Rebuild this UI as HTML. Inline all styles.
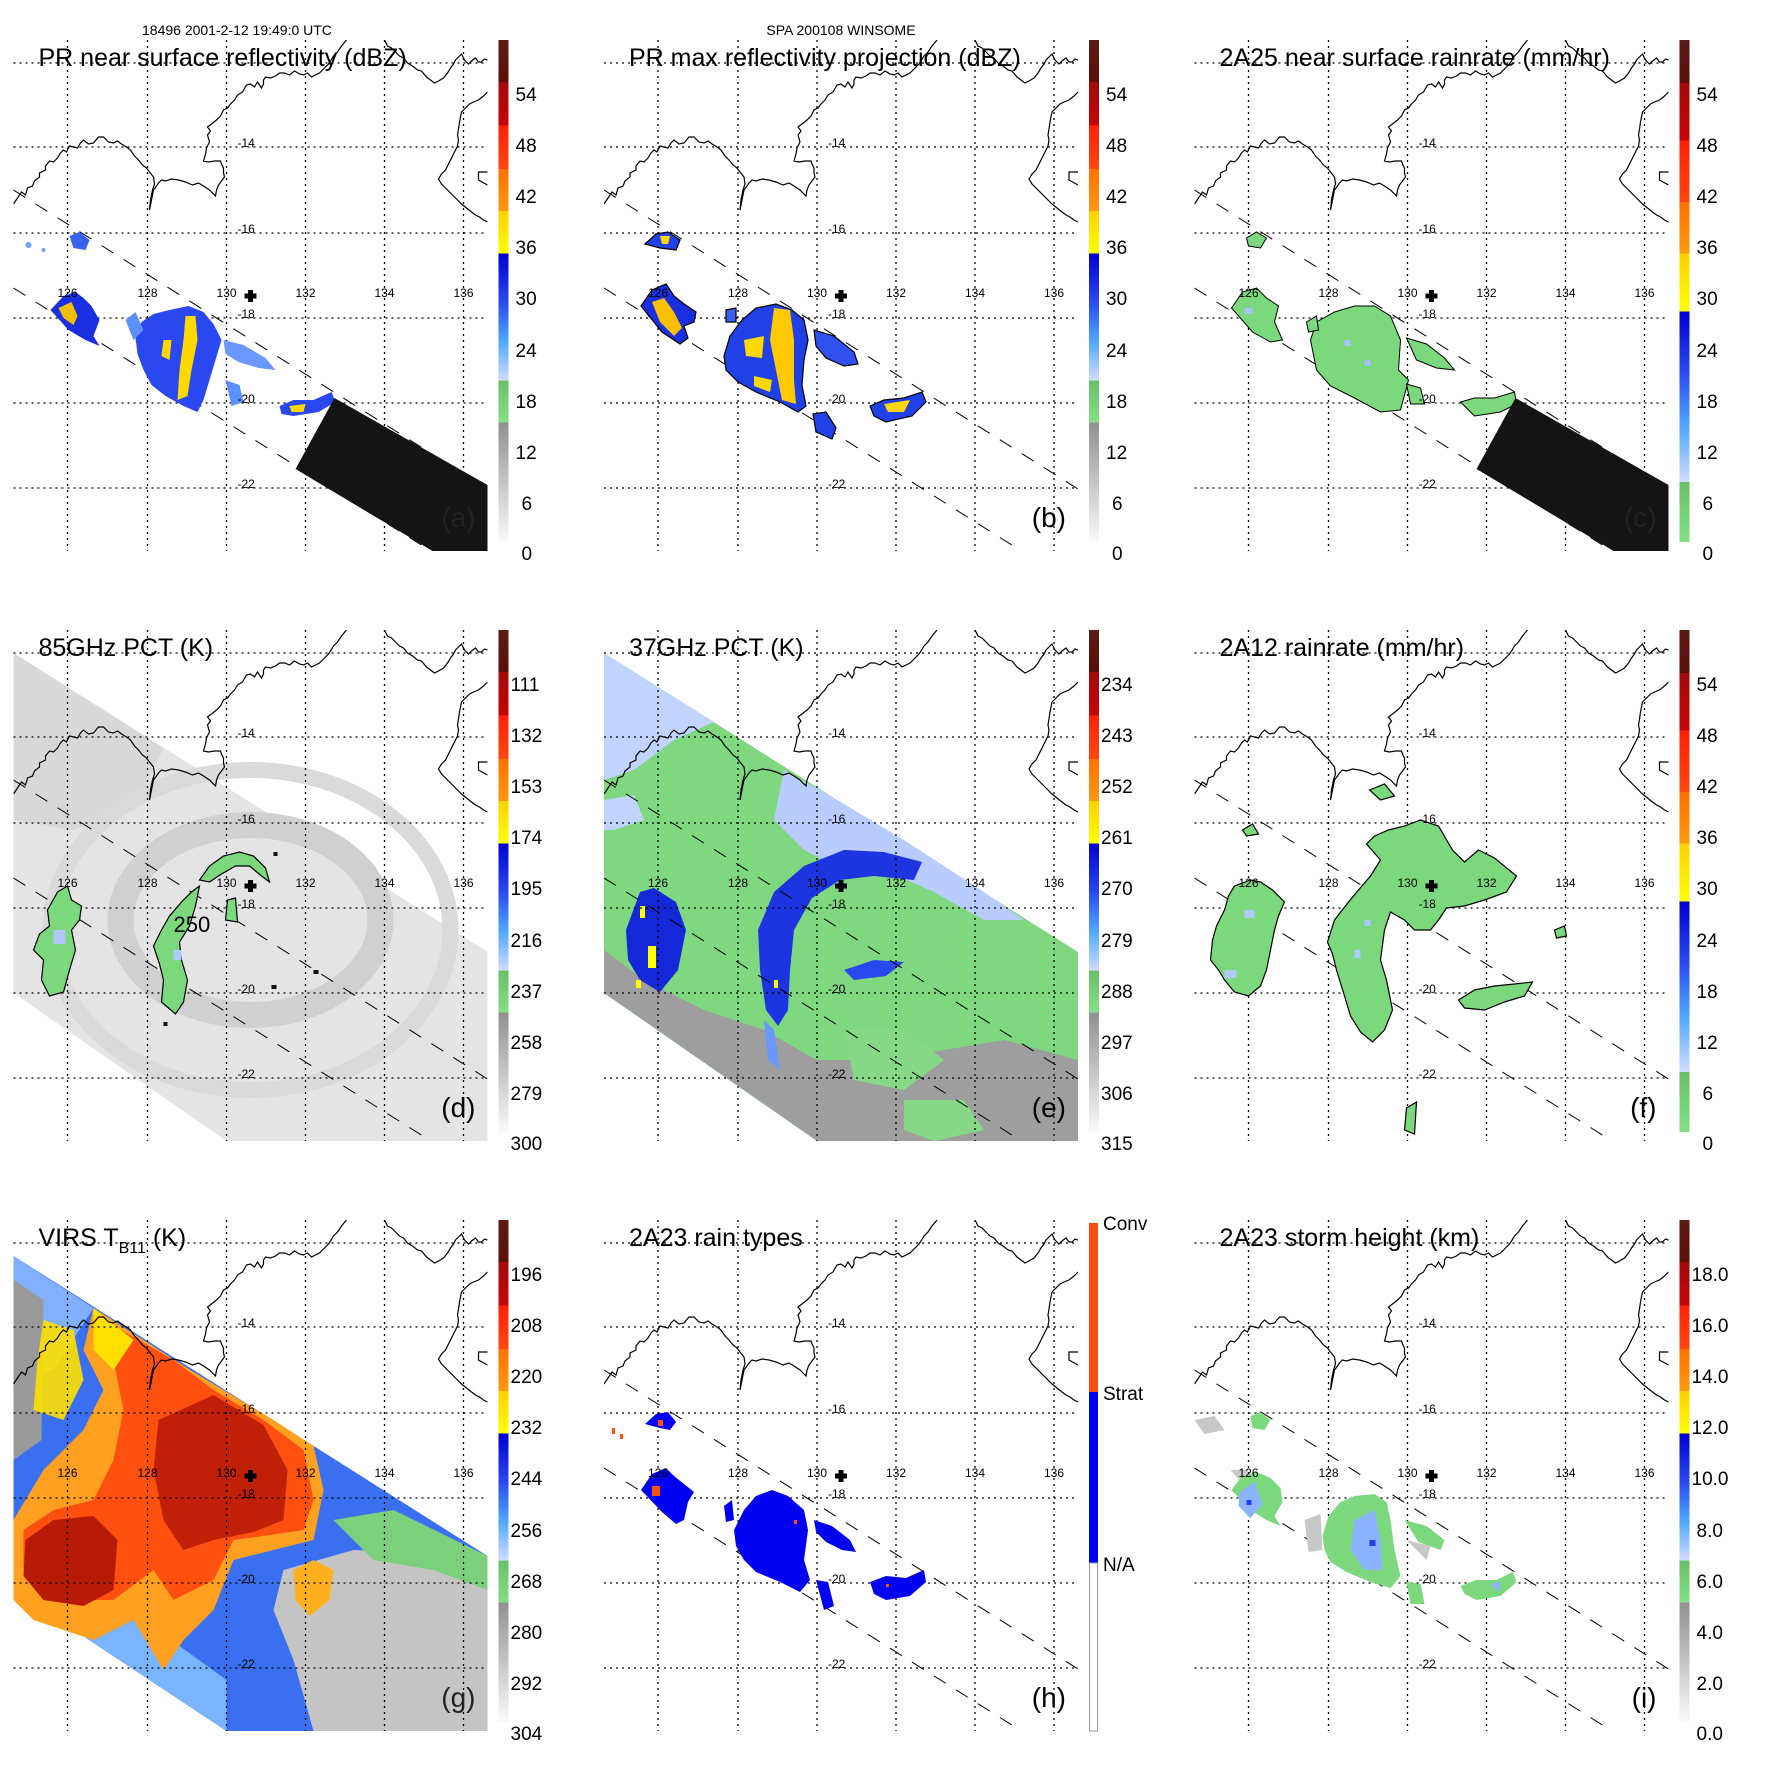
<!DOCTYPE html>
<html><head><meta charset="utf-8"><style>
html,body{margin:0;padding:0;background:#fff}
svg{display:block}
text{font-family:"Liberation Sans",sans-serif}
</style></head><body>
<svg xmlns="http://www.w3.org/2000/svg" xmlns:xlink="http://www.w3.org/1999/xlink" width="1771" height="1771" viewBox="0 0 1771 1771">
<defs>
<clipPath id="cp"><rect x="0" y="0" width="474" height="511"/></clipPath>
<linearGradient id="gA" x1="0" y1="0" x2="0" y2="1">
<stop offset="0" stop-color="#5a1c16"/><stop offset=".084" stop-color="#5a1008"/>
<stop offset=".084" stop-color="#a00a08"/><stop offset=".17" stop-color="#c80606"/>
<stop offset=".17" stop-color="#ff2008"/><stop offset=".257" stop-color="#ff4810"/>
<stop offset=".257" stop-color="#ff7000"/><stop offset=".341" stop-color="#ff9a10"/>
<stop offset=".341" stop-color="#ffd000"/><stop offset=".425" stop-color="#ffff00"/>
<stop offset=".425" stop-color="#0000d0"/><stop offset=".52" stop-color="#2848f0"/><stop offset=".6" stop-color="#50a8ff"/><stop offset=".678" stop-color="#d0dcff"/>
<stop offset=".678" stop-color="#68c068"/><stop offset=".762" stop-color="#84e084"/>
<stop offset=".762" stop-color="#909090"/><stop offset="1" stop-color="#fafafa"/>
</linearGradient>
<linearGradient id="gC" x1="0" y1="0" x2="0" y2="1">
<stop offset="0" stop-color="#5a1c16"/><stop offset=".086" stop-color="#5a1008"/>
<stop offset=".086" stop-color="#a00a08"/><stop offset=".2" stop-color="#c80606"/>
<stop offset=".2" stop-color="#ff2008"/><stop offset=".323" stop-color="#ff4810"/>
<stop offset=".323" stop-color="#ff7000"/><stop offset=".425" stop-color="#ff9a10"/>
<stop offset=".425" stop-color="#ffd000"/><stop offset=".541" stop-color="#ffff00"/>
<stop offset=".541" stop-color="#0000d0"/><stop offset=".66" stop-color="#2848f0"/><stop offset=".77" stop-color="#50a8ff"/><stop offset=".88" stop-color="#d0dcff"/>
<stop offset=".88" stop-color="#68c068"/><stop offset="1" stop-color="#84e084"/>
</linearGradient>
<g id="grid" stroke="#000" stroke-width="1.3" stroke-dasharray="2,4" fill="none">
<path d="M54 0V511M134 0V511M213 0V511M292 0V511M371 0V511M450 0V511M0 23H474M0 107H474M0 193H474M0 278H474M0 363H474M0 448H474"/>
</g>
<g id="lbl" font-size="12" fill="#000">
<text x="54" y="257" text-anchor="middle">126</text><text x="134" y="257" text-anchor="middle">128</text><text x="213" y="257" text-anchor="middle">130</text><text x="292" y="257" text-anchor="middle">132</text><text x="371" y="257" text-anchor="middle">134</text><text x="450" y="257" text-anchor="middle">136</text>
<text x="224" y="107">-14</text><text x="224" y="193">-16</text><text x="224" y="278">-18</text><text x="224" y="363">-20</text><text x="224" y="448">-22</text>
<path d="M231 256h12M237 250v12" stroke="#000" stroke-width="5"/>
</g>
<g id="coast" fill="none" stroke="#000" stroke-width="1.2">
<path d="M0 164L4 158L8 152L12 155L14 148L19 146L21 141L26 137L26 133L32 130L32 126L36 121L40 122L44 118L47 113L50 110L53 112L56 106L60 107L64 108L67 103L70 100L75 104L80 103L85 97L90 97L95 102L100 103L104 101L108 104L113 107L117 110L121 116L125 120L129 125L133 128L136 132L140 137L141 144L139 150L137 160L136 170L138 160L140 150L143 146L145 143L148 140L152 141L158 139L165 140L172 142L179 145L185 143L190 146L196 150L202 156L203 150L205 145L208 141L211 137L210 133L210 128L208 124L207 121L201 121L195 122L190 121L192 114L193 108L196 102L194 95L197 91L194 87L198 84L203 80L207 76L210 70L214 68L217 64L221 60L224 55L229 52L233 45L237 44L241 47L244 42L248 48L250 44L250 40L252 37L257 38L262 36L266 33L271 33L276 35L281 31L286 34L290 35L294 33L298 37L302 35L306 33L309 30L312 27L315 24L317 21L320 16L324 12L328 6L333 0"/>
<path d="M371 0L374 6L378 8L382 12L386 16L390 18L394 23L399 26L404 30L408 31L413 37L417 40L421 43L425 41L430 38L434 33L437 28L440 24L442 20L445 17L448 14L451 20L455 24L458 21L462 18L465 22L468 22L471 19L474 20"/>
<path d="M474 52L470 56L465 60L460 62L456 64L452 68L448 72L447 77L446 82L445 89L444 95L445 100L444 106L441 112L438 118L435 124L432 130L428 134L425 139L428 144L432 148L436 152L440 156L444 160L448 164L453 168L458 172L462 175L466 177L470 180L474 182"/>
<path d="M474 132L465 132L465 140L474 145"/>
</g>
<g id="sw" fill="none" stroke="#000" stroke-width="1" stroke-dasharray="14,12">
<path d="M0 150L474 449"/><path d="M0 248L411 507"/>
</g>
</defs>

<text x="142" y="35" font-size="14">18496 2001-2-12 19:49:0 UTC</text>
<text x="841" y="35" font-size="14" text-anchor="middle">SPA 200108 WINSOME</text>

<!-- Panel a -->
<g transform="translate(13.5,40)">
<g clip-path="url(#cp)">
<use xlink:href="#grid"/><use xlink:href="#coast"/><use xlink:href="#sw"/>
<g fill="#6fa0ff"><circle cx="15" cy="205" r="3"/><circle cx="30" cy="210" r="2"/></g>
<path d="M56 196L66 192L76 200L72 210L60 208Z" fill="#3a60f0"/>
<path d="M37 270L50 256L62 252L70 258L78 266L86 280L80 296L86 306L72 300L55 290Z" fill="#1a30e0"/>
<path d="M45 268L58 262L64 276L60 285L50 278Z" fill="#f0c000"/>
<path d="M122 298L128 282L140 274L156 270L175 266L190 272L200 284L208 300L202 320L196 340L190 360L184 372L170 366L152 356L138 345L130 330L124 314Z" fill="#2a48f0"/>
<path d="M112 280L122 272L130 290L120 300Z" fill="#5a90ff"/>
<path d="M172 276L182 276L184 300L178 330L174 356L164 360L166 330L170 300Z" fill="#ffd800"/>
<path d="M150 300L158 300L156 320L148 316Z" fill="#ffd800"/>
<path d="M210 300L230 305L252 318L262 330L245 328L225 322L212 314Z" fill="#6a98ff"/>
<path d="M212 340L226 345L230 362L218 366Z" fill="#5a90ff"/>
<path d="M266 366L280 360L300 360L318 352L322 362L305 372L280 376L268 374Z" fill="#2a48f0"/>
<path d="M276 366L292 364L290 372L278 372Z" fill="#ffd800"/>
<path d="M321 358L474 445L474 511L419 511L282 429Z" fill="#141414"/>
<use xlink:href="#lbl"/>
</g>
<text x="25" y="26" font-size="25">PR near surface reflectivity (dBZ)</text>
<text x="462" y="487" font-size="28" text-anchor="end" fill="#222">(a)</text>
<rect x="485" y="0" width="10" height="502" fill="url(#gA)"/>
<g font-size="19"><text x="502" y="61">54</text><text x="502" y="112">48</text><text x="502" y="163">42</text><text x="502" y="214">36</text><text x="502" y="265">30</text><text x="502" y="317">24</text><text x="502" y="368">18</text><text x="502" y="419">12</text><text x="508" y="470">6</text><text x="508" y="520">0</text></g>
</g>

<!-- Panel b -->
<g transform="translate(604,40)">
<g clip-path="url(#cp)">
<use xlink:href="#grid"/><use xlink:href="#coast"/><use xlink:href="#sw"/>
<g stroke="#000" stroke-width="1.2">
<path d="M41 204L52 194L64 192L76 200L72 210L56 208Z" fill="#2040e8"/>
<path d="M37 266L48 250L62 244L70 256L80 264L92 272L90 282L80 286L84 298L76 304L58 292Z" fill="#1a30e0"/>
<path d="M120 316L126 296L138 280L152 268L172 264L188 270L200 280L204 300L200 320L198 345L202 366L194 372L176 362L152 352L134 342L122 330Z" fill="#2040e8"/>
<path d="M210 290L230 296L250 312L254 324L240 326L222 318L212 306Z" fill="#3050f0"/>
<path d="M209 374L222 372L232 388L228 399L212 392Z" fill="#2040e8"/>
<path d="M266 366L280 360L300 358L318 352L322 362L308 376L282 382L270 376Z" fill="#2040e8"/>
<path d="M122 270L132 268L132 282L122 282Z" fill="#3a60f0"/>
</g>
<path d="M48 262L60 258L70 272L78 288L70 296L56 282Z" fill="#f8c000"/>
<path d="M170 268L186 270L190 300L190 340L192 364L178 360L172 330L166 300Z" fill="#ffc800"/>
<path d="M140 300L160 296L158 318L142 316Z" fill="#ffd800"/>
<path d="M150 336L168 340L166 352L150 346Z" fill="#ffd800"/>
<path d="M280 364L306 360L300 372L284 372Z" fill="#ffd800"/>
<path d="M56 196L66 196L64 204L58 204Z" fill="#ffd800"/>
<use xlink:href="#lbl"/>
</g>
<text x="25" y="26" font-size="25">PR max reflectivity projection (dBZ)</text>
<text x="462" y="487" font-size="28" text-anchor="end">(b)</text>
<rect x="485" y="0" width="10" height="502" fill="url(#gA)"/>
<g font-size="19"><text x="502" y="61">54</text><text x="502" y="112">48</text><text x="502" y="163">42</text><text x="502" y="214">36</text><text x="502" y="265">30</text><text x="502" y="317">24</text><text x="502" y="368">18</text><text x="502" y="419">12</text><text x="508" y="470">6</text><text x="508" y="520">0</text></g>
</g>

<!-- Panel c -->
<g transform="translate(1194.5,40)">
<g clip-path="url(#cp)">
<use xlink:href="#grid"/><use xlink:href="#coast"/><use xlink:href="#sw"/>
<g fill="#7cd87c" stroke="#000" stroke-width="1">
<path d="M52 198L62 192L72 198L66 208L54 206Z"/>
<path d="M37 268L48 252L62 248L72 258L84 266L80 282L88 300L76 302L58 292Z"/>
<path d="M116 300L122 282L140 272L160 266L180 266L196 276L206 300L204 330L214 340L206 370L186 372L160 358L136 346L122 330Z"/>
<path d="M112 282L122 276L124 290L114 292Z"/>
<path d="M212 298L232 304L250 318L260 330L242 328L222 320Z"/>
<path d="M212 344L226 348L230 364L216 364Z"/>
<path d="M266 362L280 358L300 358L320 352L322 364L306 372L280 376Z"/>
</g>
<g fill="#a8c0ff"><rect x="150" y="300" width="6" height="6"/><rect x="170" y="320" width="6" height="6"/><rect x="50" y="268" width="8" height="6"/></g>
<path d="M321 358L474 445L474 511L419 511L282 429Z" fill="#141414"/>
<use xlink:href="#lbl"/>
</g>
<text x="25" y="26" font-size="25">2A25 near surface rainrate (mm/hr)</text>
<text x="462" y="487" font-size="28" text-anchor="end" fill="#222">(c)</text>
<rect x="485" y="0" width="10" height="502" fill="url(#gC)"/>
<g font-size="19"><text x="502" y="61">54</text><text x="502" y="112">48</text><text x="502" y="163">42</text><text x="502" y="214">36</text><text x="502" y="265">30</text><text x="502" y="317">24</text><text x="502" y="368">18</text><text x="502" y="419">12</text><text x="508" y="470">6</text><text x="508" y="520">0</text></g>
</g>

<!-- Panel d -->
<g transform="translate(13.5,630)">
<g clip-path="url(#cp)">
<path d="M0 23L474 322L474 511L213 511L0 363Z" fill="#e4e4e4"/>
<path d="M0 23L150 118L120 180L60 200L0 190Z" fill="#d8d8d8"/>
<ellipse cx="237" cy="290" rx="130" ry="95" fill="none" stroke="#d0d0d0" stroke-width="26"/>
<ellipse cx="237" cy="300" rx="200" ry="160" fill="none" stroke="#dadada" stroke-width="16"/>
<use xlink:href="#grid"/><use xlink:href="#coast"/><use xlink:href="#sw"/>
<g fill="#7cd87c" stroke="#000" stroke-width="1.2">
<path d="M44 262L54 256L58 270L68 276L66 290L58 300L62 320L56 340L50 362L36 366L28 350L30 330L20 320L26 304L36 296L34 280Z"/>
<path d="M178 262L186 256L182 276L176 296L166 312L168 330L174 350L170 372L162 384L148 372L150 350L146 334L140 316L148 300L156 286L168 272Z"/>
<path d="M186 250L196 236L210 226L226 222L240 226L252 238L256 252L248 246L236 236L222 236L208 244L196 252Z"/>
<path d="M214 270L222 268L224 292L212 290Z"/>
</g>
<g fill="#b0c8ff"><rect x="40" y="300" width="12" height="14"/><rect x="160" y="320" width="8" height="10"/></g>
<g fill="#111"><rect x="258" y="355" width="5" height="4"/><rect x="300" y="340" width="5" height="4"/><rect x="260" y="222" width="4" height="4"/><rect x="150" y="392" width="4" height="4"/></g>
<use xlink:href="#lbl"/>
<text x="160" y="302" font-size="22">250</text>
</g>
<text x="25" y="26" font-size="25">85GHz PCT (K)</text>
<text x="462" y="487" font-size="28" text-anchor="end">(d)</text>
<rect x="485" y="0" width="10" height="502" fill="url(#gA)"/>
<g font-size="19"><text x="497" y="61">111</text><text x="497" y="112">132</text><text x="497" y="163">153</text><text x="497" y="214">174</text><text x="497" y="265">195</text><text x="497" y="317">216</text><text x="497" y="368">237</text><text x="497" y="419">258</text><text x="497" y="470">279</text><text x="497" y="520">300</text></g>
</g>

<!-- Panel e -->
<g transform="translate(604,630)">
<g clip-path="url(#cp)">
<path d="M0 23L474 322L474 511L213 511L0 363Z" fill="#7fd87f"/>
<path d="M0 23L110 92L70 110L30 140L0 150Z" fill="#c0d4ff"/>
<path d="M0 170L30 165L40 190L10 200L0 200Z" fill="#c0d4ff"/>
<path d="M180 140L230 168L300 210L380 262L420 290L380 290L330 262L280 240L240 240L200 220L170 190Z" fill="#b8ccff"/>
<path d="M0 320L40 350L100 380L160 400L213 430L280 430L340 420L400 410L474 430L474 511L213 511L0 363Z" fill="#9e9e9e"/>
<path d="M240 400L300 400L340 430L300 460L250 450Z" fill="#86d886"/>
<path d="M300 470L360 470L380 500L330 511L300 500Z" fill="#86d886"/>
<path d="M22 300L36 262L50 258L72 272L82 300L74 340L56 362L36 350L24 330Z" fill="#1428d8"/>
<path d="M162 380L156 340L154 300L170 262L200 236L240 220L280 222L318 232L310 250L270 246L236 250L208 268L190 300L186 340L184 380L174 396Z" fill="#1d35e0"/>
<path d="M160 390L170 400L176 440L164 430Z" fill="#6a98ff"/>
<path d="M240 340L270 330L300 332L282 346L250 350Z" fill="#2848f0"/>
<g fill="#ffff00"><rect x="36" y="276" width="5" height="12"/><rect x="44" y="316" width="8" height="22"/><rect x="32" y="350" width="5" height="8"/><rect x="170" y="350" width="4" height="8"/></g>
<use xlink:href="#grid"/><use xlink:href="#coast"/><use xlink:href="#sw"/>
<use xlink:href="#lbl"/>
</g>
<text x="25" y="26" font-size="25">37GHz PCT (K)</text>
<text x="462" y="487" font-size="28" text-anchor="end">(e)</text>
<rect x="485" y="0" width="10" height="502" fill="url(#gA)"/>
<g font-size="19"><text x="497" y="61">234</text><text x="497" y="112">243</text><text x="497" y="163">252</text><text x="497" y="214">261</text><text x="497" y="265">270</text><text x="497" y="317">279</text><text x="497" y="368">288</text><text x="497" y="419">297</text><text x="497" y="470">306</text><text x="497" y="520">315</text></g>
</g>

<!-- Panel f -->
<g transform="translate(1194.5,630)">
<g clip-path="url(#cp)">
<use xlink:href="#grid"/><use xlink:href="#coast"/><use xlink:href="#sw"/>
<g fill="#7cd87c" stroke="#000" stroke-width="1.2">
<path d="M40 256L56 250L66 252L78 260L90 272L84 286L80 300L76 320L72 340L66 356L54 366L40 362L30 350L24 340L16 330L18 310L22 296L30 280L34 266Z"/>
<path d="M133 312L140 290L154 272L164 260L176 246L186 230L172 214L180 206L194 200L210 196L226 190L244 196L258 220L270 232L284 220L300 228L322 246L312 262L290 270L270 276L252 278L244 290L236 300L220 300L210 290L196 282L190 300L186 330L192 350L198 380L190 400L178 412L166 402L156 386L150 366L142 340L138 324Z"/>
<path d="M264 370L280 360L300 356L320 354L338 352L330 366L310 372L290 380L270 378Z"/>
<path d="M175 160L190 154L200 166L186 170Z"/>
<path d="M48 200L58 194L64 204L52 206Z"/>
<path d="M212 478L222 472L220 504L210 500Z"/>
<path d="M360 300L370 296L372 306L362 308Z"/>
</g>
<g fill="#b0c8ff"><rect x="50" y="280" width="10" height="8"/><rect x="30" y="340" width="12" height="8"/><rect x="160" y="320" width="6" height="8"/><rect x="170" y="290" width="6" height="6"/></g>
<use xlink:href="#lbl"/>
</g>
<text x="25" y="26" font-size="25">2A12 rainrate (mm/hr)</text>
<text x="462" y="487" font-size="28" text-anchor="end">(f)</text>
<rect x="485" y="0" width="10" height="502" fill="url(#gC)"/>
<g font-size="19"><text x="502" y="61">54</text><text x="502" y="112">48</text><text x="502" y="163">42</text><text x="502" y="214">36</text><text x="502" y="265">30</text><text x="502" y="317">24</text><text x="502" y="368">18</text><text x="502" y="419">12</text><text x="508" y="470">6</text><text x="508" y="520">0</text></g>
</g>

<!-- Panel g -->
<g transform="translate(13.5,1220)">
<g clip-path="url(#cp)">
<path d="M0 36L474 336L474 511L213 511L0 370Z" fill="#3a70f0"/>
<path d="M0 36L80 88L40 150L0 160Z" fill="#80b0ff"/>
<path d="M0 60L30 80L28 220L0 240Z" fill="#9a9a9a"/>
<path d="M0 300L60 330L130 400L213 460L213 511L0 370Z" fill="#7ab4ff"/>
<path d="M270 350L340 330L474 336L474 511L300 511L280 440L260 390Z" fill="#c4c4c4"/>
<path d="M320 300L380 290L474 336L474 370L420 350L360 340Z" fill="#7cd07c"/>
<path d="M80 88L180 152L260 200L300 226L310 270L300 320L260 330L220 340L200 390L170 420L150 450L120 400L80 420L20 400L0 380L0 300L30 250L70 210L90 170L70 130Z" fill="#ffa020"/>
<path d="M90 100L160 140L200 170L250 200L290 230L300 280L290 310L250 316L220 320L200 360L160 380L140 350L100 380L40 380L10 350L10 310L40 290L80 280L100 240L110 190L100 140Z" fill="#ff5010"/>
<path d="M145 200L200 175L250 205L274 250L270 300L240 312L200 320L170 330L150 300L140 250Z" fill="#c02008"/>
<path d="M12 320L40 300L80 296L104 320L100 370L70 386L30 380L10 356Z" fill="#b81a08"/>
<path d="M30 100L60 110L70 160L50 200L20 190L24 140Z" fill="#ffe000" opacity=".9"/>
<path d="M280 350L300 340L320 350L316 380L296 396L282 380Z" fill="#ffb020"/>
<path d="M80 88L120 120L100 150L80 130Z" fill="#ffe000"/>
<use xlink:href="#grid"/><use xlink:href="#coast"/>
<use xlink:href="#lbl"/>
</g>
<text x="25" y="26" font-size="25">VIRS T<tspan font-size="16" dy="7">B11</tspan><tspan dy="-7"> (K)</tspan></text>
<text x="462" y="487" font-size="28" text-anchor="end" fill="#222">(g)</text>
<rect x="485" y="0" width="10" height="502" fill="url(#gA)"/>
<g font-size="19"><text x="497" y="61">196</text><text x="497" y="112">208</text><text x="497" y="163">220</text><text x="497" y="214">232</text><text x="497" y="265">244</text><text x="497" y="317">256</text><text x="497" y="368">268</text><text x="497" y="419">280</text><text x="497" y="470">292</text><text x="497" y="520">304</text></g>
</g>

<!-- Panel h -->
<g transform="translate(604,1220)">
<g clip-path="url(#cp)">
<use xlink:href="#grid"/><use xlink:href="#coast"/><use xlink:href="#sw"/>
<g fill="#0000f0">
<path d="M41 204L52 194L64 192L72 202L66 210L56 208Z"/>
<path d="M37 270L48 254L62 248L70 256L80 264L90 272L84 282L80 300L72 304L58 292Z"/>
<path d="M130 310L140 290L152 276L168 270L184 276L200 290L204 310L200 340L206 360L196 372L176 362L152 352L140 340L132 326Z"/>
<path d="M120 286L128 280L130 300L122 302Z"/>
<path d="M210 300L228 306L246 320L252 332L238 330L222 322L212 312Z"/>
<path d="M212 360L224 362L230 386L220 390Z"/>
<path d="M266 362L282 356L302 358L320 350L322 362L306 376L282 380L270 374Z"/>
</g>
<g fill="#ff5010"><rect x="48" y="266" width="8" height="10"/><rect x="54" y="200" width="5" height="6"/><rect x="8" y="208" width="3" height="6"/><rect x="16" y="214" width="3" height="5"/><rect x="190" y="300" width="3" height="4"/><rect x="282" y="364" width="3" height="3"/></g>
<use xlink:href="#lbl"/>
</g>
<text x="25" y="26" font-size="25">2A23 rain types</text>
<text x="462" y="487" font-size="28" text-anchor="end">(h)</text>
<rect x="485" y="3" width="9" height="170" fill="#ff4a10"/>
<rect x="485" y="172" width="9" height="171" fill="#0000f0"/>
<rect x="485.5" y="343" width="8" height="168" fill="#fff" stroke="#999"/>
<g font-size="19"><text x="499" y="10">Conv</text><text x="499" y="180">Strat</text><text x="499" y="351">N/A</text></g>
</g>

<!-- Panel i -->
<g transform="translate(1194.5,1220)">
<g clip-path="url(#cp)">
<use xlink:href="#grid"/><use xlink:href="#coast"/><use xlink:href="#sw"/>
<g fill="#c8c8c8"><path d="M0 200L20 196L30 210L10 214Z"/><path d="M110 300L126 294L128 330L114 332Z"/><path d="M212 320L236 326L232 340Z"/><path d="M36 250L54 250L48 264Z"/></g>
<g fill="#7cd87c">
<path d="M56 196L66 192L76 200L70 210L58 208Z"/>
<path d="M37 270L48 256L62 252L76 258L86 268L88 282L80 296L86 306L72 300L56 290Z"/>
<path d="M128 316L134 296L146 282L160 276L180 274L192 282L196 300L200 330L206 356L196 368L176 362L152 352L136 342L130 330Z"/>
<path d="M210 300L232 306L250 320L246 330L224 322Z"/>
<path d="M212 362L226 364L230 384L216 384Z"/>
<path d="M266 366L282 360L302 360L318 352L322 362L306 376L282 380L270 374Z"/>
</g>
<g fill="#8ab4ff"><path d="M45 272L60 262L68 284L56 298L44 286Z"/><path d="M160 300L180 290L186 320L188 350L170 350L156 330Z"/><path d="M296 364L306 362L304 372Z"/></g>
<g fill="#2040f0"><rect x="52" y="280" width="5" height="5"/><rect x="175" y="320" width="6" height="6"/></g>
<use xlink:href="#lbl"/>
</g>
<text x="25" y="26" font-size="25">2A23 storm height (km)</text>
<text x="462" y="487" font-size="28" text-anchor="end">(i)</text>
<rect x="485" y="0" width="10" height="502" fill="url(#gA)"/>
<g font-size="19"><text x="497" y="61">18.0</text><text x="497" y="112">16.0</text><text x="497" y="163">14.0</text><text x="497" y="214">12.0</text><text x="497" y="265">10.0</text><text x="502" y="317">8.0</text><text x="502" y="368">6.0</text><text x="502" y="419">4.0</text><text x="502" y="470">2.0</text><text x="502" y="520">0.0</text></g>
</g>
</svg>
</body></html>
